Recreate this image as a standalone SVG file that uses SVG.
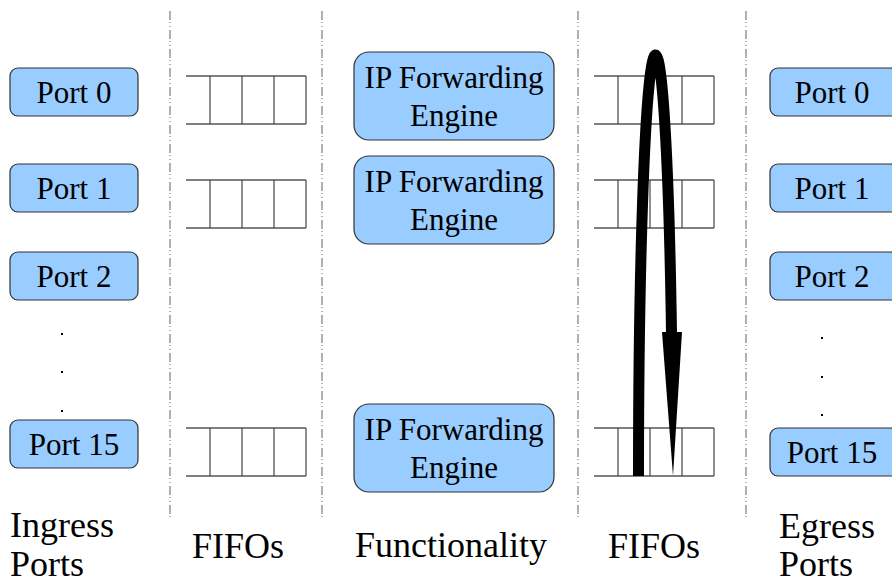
<svg xmlns="http://www.w3.org/2000/svg" width="892" height="586" viewBox="0 0 892 586">
<style>
  .port rect { fill: #99ccff; stroke: #333; stroke-width: 1.2; }
  .eng rect { fill: #99ccff; stroke: #333; stroke-width: 1.2; }
  text { font-family: "Liberation Serif", "Times New Roman", Tinos, "Noto Serif", "DejaVu Serif", FreeSerif, Times, serif; fill: #000; }
  .t { text-anchor: middle; }
  .pt { font-size: 31px; }
  .lbl { font-size: 36px; }
  .sep { stroke: #888; stroke-width: 1.3; stroke-dasharray: 9 2 1 3 1 3; fill: none; }
  .fh { stroke: #000; stroke-width: 1.2; }
  .fv { stroke: #444; stroke-width: 1.2; }
  .dot { fill: #000; }
</style>
<defs>
  <g id="fifo">
    <line class="fh" x1="0" y1="0" x2="120" y2="0"/>
    <line class="fh" x1="0" y1="48" x2="120" y2="48"/>
    <line class="fv" x1="24" y1="0" x2="24" y2="48"/>
    <line class="fv" x1="56" y1="0" x2="56" y2="48"/>
    <line class="fv" x1="88" y1="0" x2="88" y2="48"/>
    <line class="fv" x1="120" y1="0" x2="120" y2="48"/>
  </g>
</defs>
<rect width="892" height="586" fill="#fff"/>

<g id="separators">
  <line class="sep" x1="170" y1="11" x2="170" y2="517"/>
  <line class="sep" x1="322" y1="11" x2="322" y2="517"/>
  <line class="sep" x1="578" y1="11" x2="578" y2="517"/>
  <line class="sep" x1="746" y1="11" x2="746" y2="517"/>
</g>

<g id="ingress-port-0" class="port"><rect x="10" y="68" width="128" height="48" rx="8"/><text class="t pt" x="74" y="103">Port 0</text></g>
<g id="ingress-port-1" class="port"><rect x="10" y="164" width="128" height="48" rx="8"/><text class="t pt" x="74" y="199">Port 1</text></g>
<g id="ingress-port-2" class="port"><rect x="10" y="252" width="128" height="48" rx="8"/><text class="t pt" x="74" y="287">Port 2</text></g>
<g id="ingress-dots">
  <rect class="dot" x="61" y="333" width="2" height="2"/>
  <rect class="dot" x="61" y="371" width="2" height="2"/>
  <rect class="dot" x="61" y="410" width="2" height="2"/>
</g>
<g id="ingress-port-15" class="port"><rect x="10" y="420" width="128" height="48" rx="8"/><text class="t pt" x="74" y="455">Port 15</text></g>

<g id="in-fifo-0"><use href="#fifo" x="186" y="76"/></g>
<g id="in-fifo-1"><use href="#fifo" x="186" y="180"/></g>
<g id="in-fifo-15"><use href="#fifo" x="186" y="428"/></g>

<g id="engine-0" class="eng"><rect x="354" y="52" width="200" height="88" rx="15"/><text class="t pt" x="454" y="88">IP Forwarding</text><text class="t pt" x="454" y="126">Engine</text></g>
<g id="engine-1" class="eng"><rect x="354" y="156" width="200" height="88" rx="15"/><text class="t pt" x="454" y="192">IP Forwarding</text><text class="t pt" x="454" y="230">Engine</text></g>
<g id="engine-15" class="eng"><rect x="354" y="404" width="200" height="88" rx="15"/><text class="t pt" x="454" y="440">IP Forwarding</text><text class="t pt" x="454" y="478">Engine</text></g>

<g id="out-fifo-0"><use href="#fifo" x="594" y="76"/></g>
<g id="out-fifo-1"><use href="#fifo" x="594" y="180"/></g>
<g id="out-fifo-15"><use href="#fifo" x="594" y="428"/></g>

<g id="egress-port-0" class="port"><rect x="770" y="68" width="128" height="48" rx="8"/><text class="t pt" x="832" y="103">Port 0</text></g>
<g id="egress-port-1" class="port"><rect x="770" y="164" width="128" height="48" rx="8"/><text class="t pt" x="832" y="199">Port 1</text></g>
<g id="egress-port-2" class="port"><rect x="770" y="252" width="128" height="48" rx="8"/><text class="t pt" x="832" y="287">Port 2</text></g>
<g id="egress-dots">
  <rect class="dot" x="821" y="337" width="2" height="2"/>
  <rect class="dot" x="821" y="376" width="2" height="2"/>
  <rect class="dot" x="821" y="414" width="2" height="2"/>
</g>
<g id="egress-port-15" class="port"><rect x="770" y="428" width="128" height="48" rx="8"/><text class="t pt" x="832" y="463">Port 15</text></g>

<g id="connectors">
  <path d="M 638.5 476 A 17 420 0 0 1 671.5 333" fill="none" stroke="#000" stroke-width="11"/>
  <polygon points="662,332 682,332 673,476" fill="#000"/>
</g>

<g id="labels">
  <text class="lbl" x="10" y="537">Ingress</text>
  <text class="lbl" x="10" y="576">Ports</text>
  <text class="lbl" x="192" y="558">FIFOs</text>
  <text class="lbl" x="355" y="557">Functionality</text>
  <text class="lbl" x="608" y="558">FIFOs</text>
  <text class="lbl" x="779" y="538">Egress</text>
  <text class="lbl" x="779" y="576">Ports</text>
</g>
</svg>
